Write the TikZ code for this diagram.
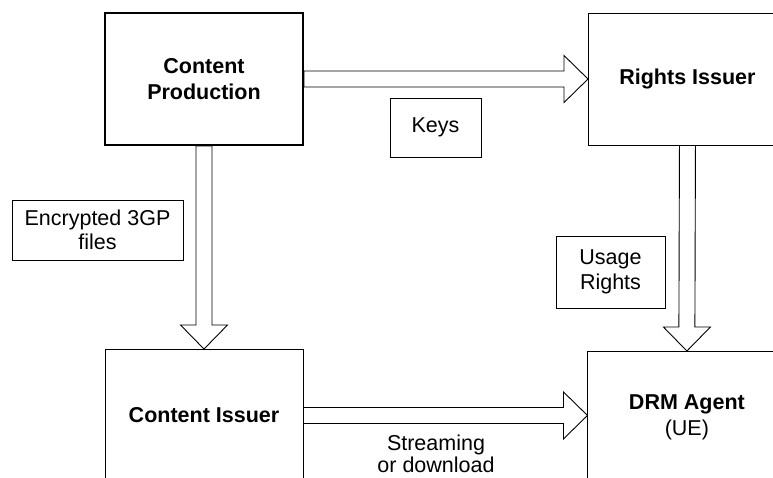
\documentclass[tikz,border=0pt]{standalone}
\usepackage{fontspec}
\setmainfont{Liberation Sans}
\usepackage{tikz}
\usetikzlibrary{calc}
\usetikzlibrary{positioning}
\tikzstyle{every node}+=[inner sep=0pt]
\tikzstyle{block} = [rectangle, draw, line width=0.9pt, font=\fontsize{21.5}{26}\selectfont\bfseries, align=center, minimum width=198pt, minimum height=132pt]
\tikzstyle{value} = [rectangle, draw, line width=0.9pt, font=\fontsize{21.5}{24.5}\selectfont, align=center]
\tikzstyle{note} = [font=\fontsize{21.5}{22.5}\selectfont, align=center]
\tikzstyle{fat} = [draw, line width=0.9pt, line join=miter]
% hollow block arrows between two named points
\newcommand{\fatright}[2]{\path [fat] ($(#1)+(0,-8)$) -- ($(#2)+(-24,-8)$) -- ++(0,-15.5) -- (#2) -- ++(-24,23.5) -- ++(0,-15.5) -- ($(#1)+(0,8)$) -- cycle;}
\newcommand{\fatdown}[2]{\path [fat] ($(#1)+(-8,0)$) -- ($(#2)+(-8,-24)$) -- ++(-15.5,0) -- (#2) -- ++(23.5,-24) -- ++(-15.5,0) -- ($(#1)+(8,0)$) -- cycle;}
\begin{document}
\begin{tikzpicture}[x=1pt, y=-1pt]
            \useasboundingbox (0,0) rectangle (773,477);
            \clip (0,0) rectangle (773,477);
            % Place nodes
            \node [block, line width=2pt] at (204,79) (cp) {Content\\Production};
            \node [block, right=284pt of cp] (ri) {Rights Issuer};
            \node [block, below=203pt of cp] (ci) {Content Issuer};
            \node [block, right=284pt of ci, yshift=-2pt] (drm) {DRM Agent\\\mdseries (UE)};
            \node [value, minimum width=91pt, minimum height=59pt] at (435.5,127.5) (keys) {Keys};
            \node [value, minimum width=171pt, minimum height=60pt] at (97.5,230) (enc) {Encrypted 3GP\\files};
            \node [value, minimum width=109pt, minimum height=72pt] at (610.5,272) (usage) {Usage\\Rights};
            \node [note] at (436,454) (strm) {Streaming\\or download};
            \coordinate (tip) at (drm.west |- ci.east);
            % Draw edges
            \fatright{cp.east}{ri.west}
            \fatdown{cp.south}{ci.north}
            \fatdown{ri.south}{drm.north}
            \fatright{ci.east}{tip}
\end{tikzpicture}
\end{document}
